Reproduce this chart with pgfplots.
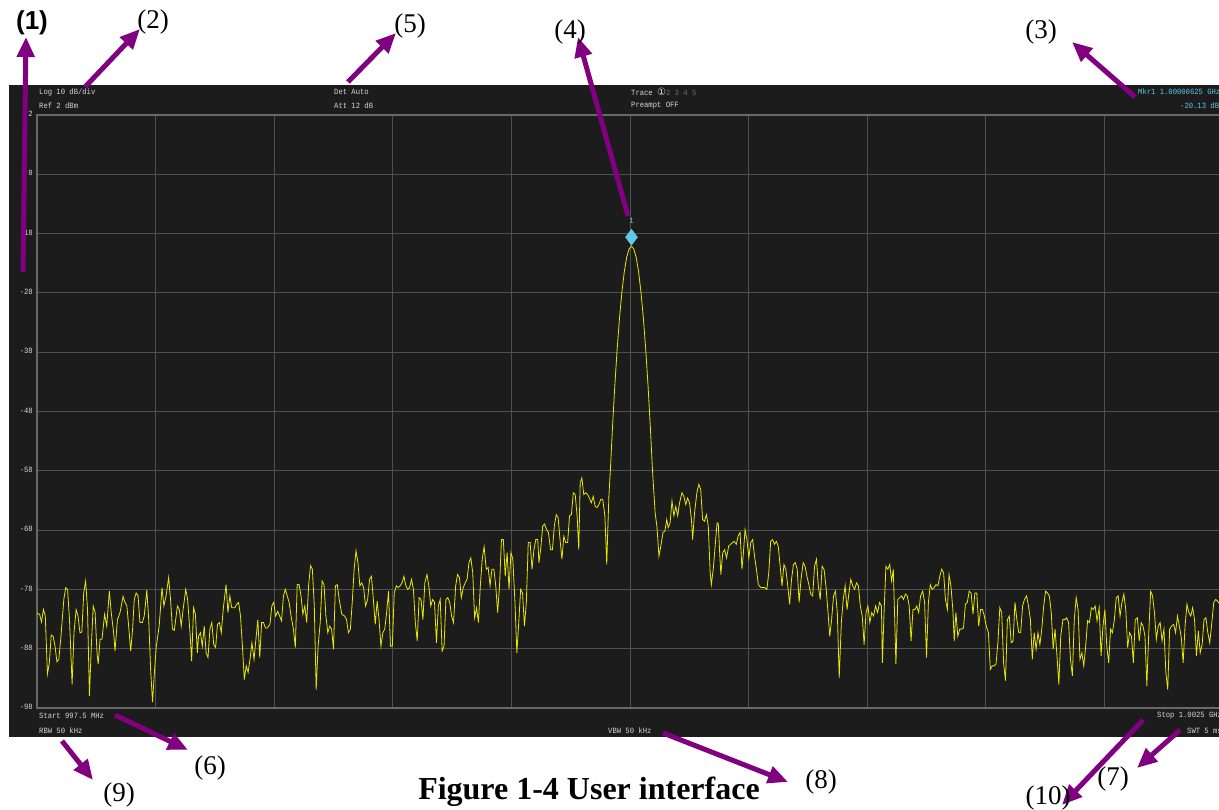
\documentclass[border=0pt]{standalone}
\usepackage{pgfplots}
\pgfplotsset{compat=1.18}
\usepackage{fontspec}
\usetikzlibrary{arrows.meta}
\setmainfont{Liberation Serif}
\newfontfamily\scr[FakeStretch=0.9]{Liberation Mono}
\newfontfamily\dejavu{DejaVu Sans}
\newfontfamily\arialf{Liberation Sans}
\newcommand\sfnt{\scr\fontsize{8}{9}\selectfont}
\definecolor{panel}{RGB}{28,28,28}
\definecolor{gridc}{RGB}{80,80,80}
\definecolor{framec}{RGB}{105,105,105}
\definecolor{scrtext}{RGB}{215,215,215}
\definecolor{dimtext}{RGB}{110,110,110}
\definecolor{trace}{RGB}{232,232,0}
\definecolor{cyanmk}{RGB}{95,200,235}
\definecolor{purp}{RGB}{128,0,128}
\begin{document}
\begin{tikzpicture}[x=1pt,y=1pt]
\path[use as bounding box] (0,0) rectangle (1219,810);
\clip (0,0) rectangle (1219,810);
\fill[panel] (9,73) rectangle (1240,725);
\begin{axis}[
  at={(37pt,102pt)}, anchor=south west,
  scale only axis, width=1186pt, height=593pt,
  xmin=997.5, xmax=1002.5, ymin=-98, ymax=2,
  xtick={997.5,998,998.5,999,999.5,1000,1000.5,1001,1001.5,1002,1002.5},
  xticklabels={,,,,,,,,,,},
  ytick={-98,-88,-78,-68,-58,-48,-38,-28,-18,-8,2},
  yticklabels={-98,-88,-78,-68,-58,-48,-38,-28,-18,-8,2},
  yticklabel style={font=\sfnt, text=scrtext, inner sep=0pt, xshift=-4pt, yshift=1pt},
  grid=major, major grid style={draw=gridc, line width=1pt},
  axis line style={draw=framec, line width=1.5pt},
  major tick length=0pt, tick style={draw=none},
  clip=true,
]
\addplot[trace, line width=0.8pt] table[x=x,y=y] {
x y
997.500 -82.0
997.511 -82.2
997.519 -83.5
997.527 -81.4
997.535 -82.5
997.544 -92.3
997.552 -90.4
997.560 -85.7
997.568 -85.9
997.576 -87.6
997.584 -90.2
997.592 -89.8
997.600 -86.4
997.613 -79.7
997.621 -77.7
997.629 -78.0
997.637 -83.1
997.648 -94.0
997.656 -85.3
997.665 -81.4
997.673 -82.5
997.681 -85.3
997.689 -85.2
997.697 -78.6
997.705 -76.6
997.713 -81.4
997.721 -96.0
997.729 -87.6
997.737 -80.8
997.745 -81.9
997.753 -88.7
997.758 -90.6
997.766 -86.4
997.774 -86.4
997.785 -82.2
997.794 -84.2
997.805 -78.3
997.813 -81.9
997.823 -85.3
997.829 -88.4
997.839 -83.1
997.850 -81.9
997.863 -79.2
997.871 -80.2
997.879 -80.8
997.887 -84.5
997.895 -88.4
997.903 -84.7
997.910 -79.7
997.918 -78.6
997.926 -79.1
997.934 -83.6
997.944 -83.6
997.952 -82.5
997.963 -78.1
997.971 -83.1
997.979 -91.5
997.987 -97.0
997.995 -92.0
998.003 -87.6
998.015 -84.2
998.027 -77.7
998.035 -80.8
998.044 -79.1
998.055 -76.0
998.063 -79.7
998.071 -84.7
998.079 -84.9
998.092 -80.8
998.100 -81.4
998.108 -84.2
998.116 -81.4
998.127 -78.0
998.135 -79.7
998.145 -85.3
998.152 -90.1
998.160 -81.1
998.168 -82.2
998.176 -88.7
998.181 -85.9
998.189 -85.3
998.197 -87.6
998.205 -84.2
998.213 -88.7
998.221 -89.5
998.229 -84.7
998.237 -83.6
998.245 -87.3
998.253 -87.8
998.261 -83.9
998.269 -83.6
998.277 -85.3
998.285 -81.4
998.297 -77.2
998.305 -81.9
998.313 -79.1
998.321 -81.1
998.334 -81.1
998.342 -80.5
998.350 -80.2
998.358 -82.5
998.366 -87.6
998.374 -93.2
998.382 -90.9
998.390 -92.0
998.398 -89.8
998.406 -87.0
998.415 -89.8
998.423 -86.4
998.431 -83.1
998.439 -89.5
998.447 -83.6
998.455 -83.6
998.463 -84.5
998.471 -84.5
998.482 -83.9
998.490 -80.8
998.498 -80.2
998.506 -82.5
998.515 -81.7
998.523 -82.5
998.531 -83.3
998.539 -79.1
998.547 -78.0
998.555 -79.1
998.563 -80.2
998.571 -82.5
998.581 -84.7
998.589 -87.8
998.597 -77.2
998.605 -77.2
998.613 -79.1
998.621 -82.2
998.629 -80.8
998.637 -83.6
998.645 -77.4
998.653 -74.0
998.661 -74.6
998.669 -80.8
998.677 -94.9
998.685 -87.6
998.694 -83.6
998.702 -76.6
998.710 -77.2
998.718 -82.5
998.726 -85.3
998.734 -84.2
998.742 -84.7
998.750 -88.1
998.758 -77.4
998.766 -77.2
998.774 -79.7
998.785 -82.2
998.797 -82.5
998.805 -83.1
998.813 -85.3
998.821 -84.7
998.829 -80.2
998.837 -74.6
998.845 -71.5
998.853 -73.5
998.861 -77.4
998.869 -76.9
998.877 -77.7
998.885 -80.8
998.894 -79.7
998.902 -76.3
998.910 -75.8
998.918 -79.7
998.926 -83.9
998.934 -80.0
998.942 -83.1
998.950 -87.6
998.958 -85.3
998.966 -84.7
998.974 -81.9
998.982 -78.3
998.990 -87.6
998.998 -87.6
999.006 -78.6
999.015 -77.4
999.023 -77.7
999.031 -77.4
999.039 -76.9
999.047 -75.8
999.055 -77.4
999.063 -78.0
999.071 -77.7
999.079 -76.3
999.087 -78.0
999.095 -83.6
999.103 -86.7
999.111 -79.4
999.119 -79.7
999.127 -83.1
999.135 -76.9
999.144 -75.5
999.152 -77.4
999.160 -80.8
999.168 -79.7
999.176 -80.2
999.184 -87.0
999.192 -80.8
999.200 -79.7
999.208 -88.4
999.216 -87.6
999.224 -79.7
999.232 -79.4
999.240 -80.2
999.248 -82.5
999.256 -83.6
999.265 -77.4
999.273 -75.5
999.281 -76.0
999.289 -79.4
999.297 -77.7
999.305 -76.9
999.313 -76.3
999.321 -73.5
999.329 -72.7
999.337 -75.2
999.345 -82.8
999.353 -81.1
999.361 -83.6
999.369 -77.4
999.377 -72.9
999.385 -70.8
999.394 -74.6
999.402 -74.3
999.410 -77.4
999.418 -74.6
999.426 -74.6
999.434 -77.4
999.442 -81.9
999.450 -77.4
999.458 -69.6
999.466 -69.6
999.474 -75.8
999.482 -71.8
999.490 -78.0
999.498 -71.8
999.506 -72.9
999.515 -80.2
999.523 -88.7
999.531 -83.6
999.539 -78.0
999.547 -78.6
999.555 -84.2
999.563 -80.2
999.571 -70.1
999.579 -70.1
999.587 -74.6
999.595 -71.3
999.603 -69.6
999.611 -69.6
999.616 -73.5
999.624 -71.0
999.632 -67.3
999.640 -67.0
999.648 -67.9
999.656 -68.4
999.665 -71.3
999.673 -71.3
999.681 -67.3
999.689 -65.4
999.697 -65.9
999.705 -69.6
999.713 -72.9
999.721 -69.0
999.729 -70.1
999.737 -70.1
999.745 -65.6
999.753 -65.4
999.761 -61.7
999.769 -62.0
999.777 -65.6
999.784 -71.3
999.790 -60.0
999.797 -59.2
999.805 -62.0
999.813 -61.7
999.821 -62.0
999.829 -62.6
999.837 -63.4
999.845 -62.3
999.853 -64.0
999.861 -64.2
999.869 -63.7
999.877 -62.8
999.885 -62.8
999.894 -65.6
999.902 -73.8
999.906 -68.4
999.911 -62.3
999.918 -57.3
999.926 -50.8
999.936 -43.6
999.946 -37.4
999.956 -32.1
999.966 -27.8
999.976 -24.4
999.986 -22.0
999.996 -20.6
1000.006 -20.13
1000.016 -20.6
1000.026 -22.0
1000.036 -24.4
1000.046 -27.8
1000.056 -32.1
1000.066 -37.4
1000.076 -43.6
1000.086 -50.8
1000.094 -57.3
1000.098 -60.0
1000.106 -65.1
1000.114 -67.6
1000.122 -72.4
1000.130 -70.7
1000.139 -68.4
1000.147 -68.2
1000.155 -66.2
1000.161 -67.6
1000.169 -66.8
1000.177 -63.1
1000.185 -65.6
1000.193 -64.0
1000.201 -65.6
1000.209 -63.4
1000.219 -61.7
1000.227 -62.3
1000.235 -63.7
1000.243 -62.6
1000.251 -63.4
1000.259 -66.2
1000.264 -69.6
1000.272 -65.1
1000.282 -61.7
1000.290 -60.3
1000.298 -61.1
1000.306 -66.2
1000.314 -66.5
1000.322 -65.4
1000.330 -67.3
1000.338 -75.2
1000.343 -77.2
1000.351 -74.6
1000.359 -70.7
1000.367 -66.8
1000.372 -66.8
1000.378 -71.8
1000.383 -75.5
1000.391 -71.8
1000.399 -71.3
1000.407 -72.7
1000.416 -70.7
1000.424 -70.4
1000.432 -70.1
1000.440 -69.9
1000.448 -70.4
1000.456 -69.0
1000.464 -68.4
1000.472 -74.6
1000.477 -72.4
1000.485 -67.9
1000.493 -69.6
1000.501 -72.7
1000.509 -70.1
1000.517 -69.6
1000.525 -72.4
1000.533 -74.6
1000.541 -77.2
1000.552 -77.7
1000.560 -77.7
1000.568 -77.7
1000.577 -78.0
1000.585 -75.2
1000.593 -69.9
1000.601 -69.6
1000.609 -70.4
1000.617 -69.9
1000.625 -70.7
1000.633 -74.1
1000.641 -77.4
1000.649 -73.8
1000.657 -74.6
1000.665 -77.4
1000.673 -80.5
1000.681 -76.3
1000.689 -73.8
1000.697 -73.5
1000.705 -74.6
1000.713 -80.2
1000.721 -76.3
1000.730 -73.5
1000.738 -74.1
1000.746 -75.8
1000.754 -77.2
1000.762 -78.8
1000.770 -79.1
1000.778 -74.1
1000.786 -72.9
1000.794 -77.4
1000.802 -79.7
1000.810 -74.1
1000.818 -74.6
1000.826 -77.4
1000.834 -81.4
1000.842 -85.9
1000.850 -83.1
1000.858 -79.1
1000.866 -78.3
1000.874 -81.9
1000.882 -92.9
1000.891 -83.6
1000.899 -79.7
1000.907 -77.4
1000.915 -81.4
1000.923 -78.6
1000.931 -76.3
1000.939 -77.4
1000.947 -78.0
1000.955 -76.9
1000.963 -77.4
1000.971 -80.8
1000.979 -82.5
1000.987 -87.3
1000.995 -81.9
1001.003 -80.8
1001.011 -83.6
1001.019 -81.9
1001.027 -82.5
1001.035 -80.8
1001.044 -81.9
1001.052 -80.2
1001.060 -80.8
1001.064 -90.4
1001.071 -81.9
1001.079 -74.1
1001.087 -74.6
1001.095 -73.8
1001.103 -76.6
1001.110 -74.6
1001.116 -83.1
1001.121 -90.6
1001.129 -79.7
1001.137 -79.4
1001.145 -79.1
1001.153 -79.7
1001.161 -78.8
1001.169 -79.1
1001.177 -80.8
1001.185 -86.7
1001.193 -81.4
1001.201 -81.4
1001.209 -80.8
1001.217 -81.9
1001.225 -79.1
1001.234 -78.3
1001.242 -80.2
1001.250 -89.5
1001.258 -80.2
1001.266 -77.2
1001.274 -78.0
1001.282 -77.7
1001.290 -77.2
1001.298 -77.4
1001.306 -75.8
1001.314 -74.6
1001.322 -75.2
1001.330 -79.7
1001.338 -81.4
1001.345 -75.5
1001.353 -77.4
1001.361 -81.4
1001.367 -86.7
1001.374 -81.9
1001.382 -85.9
1001.390 -84.7
1001.398 -84.7
1001.406 -84.5
1001.414 -80.5
1001.422 -80.2
1001.430 -78.3
1001.438 -78.6
1001.446 -82.2
1001.454 -78.6
1001.462 -78.6
1001.470 -84.2
1001.478 -81.4
1001.486 -81.4
1001.494 -82.5
1001.502 -84.2
1001.511 -85.3
1001.519 -91.5
1001.527 -90.9
1001.535 -90.9
1001.543 -90.6
1001.551 -87.0
1001.559 -81.1
1001.567 -81.9
1001.575 -90.4
1001.583 -93.4
1001.591 -83.1
1001.599 -82.5
1001.607 -87.0
1001.615 -86.7
1001.623 -80.2
1001.631 -83.1
1001.639 -85.3
1001.647 -85.3
1001.655 -80.8
1001.663 -79.7
1001.672 -79.1
1001.680 -80.8
1001.688 -83.1
1001.696 -89.8
1001.704 -85.3
1001.712 -88.1
1001.720 -85.3
1001.728 -87.3
1001.736 -84.7
1001.744 -80.8
1001.752 -78.3
1001.760 -78.6
1001.768 -79.1
1001.776 -81.9
1001.784 -88.1
1001.792 -84.7
1001.800 -89.2
1001.808 -94.0
1001.816 -85.9
1001.825 -83.1
1001.833 -83.1
1001.841 -82.8
1001.849 -83.6
1001.857 -89.8
1001.865 -92.6
1001.873 -83.1
1001.881 -79.4
1001.889 -81.4
1001.897 -89.8
1001.905 -88.7
1001.913 -90.9
1001.921 -87.6
1001.929 -83.3
1001.937 -83.6
1001.945 -81.1
1001.953 -81.4
1001.961 -80.8
1001.969 -83.3
1001.978 -81.1
1001.986 -89.2
1001.994 -84.2
1002.002 -81.4
1002.010 -87.6
1002.018 -90.4
1002.026 -84.7
1002.034 -85.3
1002.042 -83.1
1002.050 -79.4
1002.058 -79.1
1002.066 -82.5
1002.074 -80.2
1002.082 -78.8
1002.090 -81.4
1002.098 -87.8
1002.106 -85.3
1002.114 -85.9
1002.122 -90.4
1002.130 -83.1
1002.139 -82.8
1002.147 -86.7
1002.155 -83.6
1002.163 -84.2
1002.171 -85.9
1002.179 -94.3
1002.187 -85.3
1002.195 -78.3
1002.203 -79.1
1002.211 -81.9
1002.219 -86.4
1002.227 -84.2
1002.235 -83.6
1002.243 -86.7
1002.251 -84.7
1002.259 -92.0
1002.267 -94.9
1002.275 -84.7
1002.283 -84.2
1002.292 -83.9
1002.300 -85.3
1002.308 -82.5
1002.316 -84.2
1002.324 -86.1
1002.332 -90.4
1002.340 -84.2
1002.348 -80.5
1002.356 -81.9
1002.364 -82.5
1002.372 -81.1
1002.380 -83.1
1002.388 -89.2
1002.396 -85.0
1002.404 -88.7
1002.412 -87.3
1002.420 -83.1
1002.428 -82.8
1002.436 -85.3
1002.444 -87.0
1002.453 -83.6
1002.461 -80.2
1002.469 -79.7
1002.482 -80.2
1002.500 -82.0
};
\addplot[only marks, mark=diamond*, mark size=8pt, color=cyanmk,
  mark options={yshift=9pt},
  nodes near coords={1},
  every node near coord/.append style={font=\sfnt, text=cyanmk, inner sep=0pt, yshift=19pt}]
  coordinates {(1000.00625,-20.13)};
\end{axis}
% screen texts
\begin{scope}[every node/.style={anchor=west, inner sep=0pt, font=\sfnt, text=scrtext}]
\node at (39,718) {Log 10 dB/div};
\node at (39,704) {Ref 2 dBm};
\node at (334,718) {Det Auto};
\node at (334,704) {Att 12 dB};
\node at (631,718) {Trace {\dejavu\fontsize{10}{10}\selectfont ①}\textcolor{dimtext}{2 3 4 5}};
\node at (631,704) {Preampt OFF};
\node[text=cyanmk] at (1138,718) {Mkr1 1.00000625 GHz};
\node[text=cyanmk] at (1180,704) {-20.13 dBm};
\node at (39,94) {Start 997.5 MHz};
\node at (39,79) {RBW 50 kHz};
\node at (608,79) {VBW 50 kHz};
\node at (1157,94) {Stop 1.0025 GHz};
\node at (1187,79) {SWT 5 ms};
\end{scope}
% annotation arrows
\begin{scope}[line width=5pt, draw=purp, -{Triangle[length=20pt,width=17pt]}, purp]
\draw (23,538) -- (26,773);
\draw (85,723) -- (140,781);
\draw (348,728) -- (396,777);
\draw (628,594) -- (578,773);
\draw (1135,713) -- (1072,768);
\draw (115,95) -- (188,60);
\draw (62,69) -- (93,30);
\draw (663,77) -- (788,28);
\draw (1143,90) -- (1062,5);
\draw (1180,80) -- (1137,42);
\end{scope}
\node[font=\arialf\bfseries\fontsize{26}{28}\selectfont, inner sep=0] at (32,787) {(1)};
\begin{scope}[every node/.style={font=\fontsize{27}{29}\selectfont, inner sep=0}]
\node at (153,788) {(2)};
\node at (410,784) {(5)};
\node at (570,778) {(4)};
\node at (1041,778) {(3)};
\node at (210,42) {(6)};
\node at (119,15) {(9)};
\node at (821,28) {(8)};
\node at (1048,12) {(10)};
\node at (1113,31) {(7)};
\end{scope}
\node[anchor=base, font=\bfseries\fontsize{32}{36}\selectfont, inner sep=0] at (589,10) {Figure 1-4 User interface};
\end{tikzpicture}
\end{document}
